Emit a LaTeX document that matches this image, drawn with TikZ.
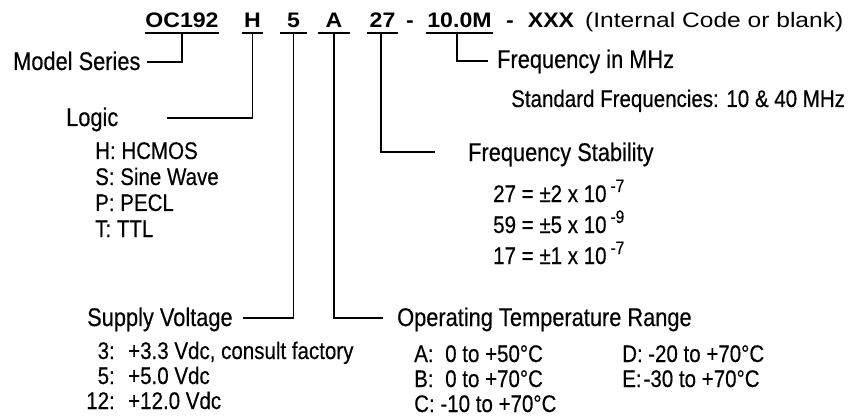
\documentclass[tikz,border=0pt]{standalone}
\usepackage{fontspec}
\setmainfont{Liberation Sans}
\newfontfamily\codefont[FakeStretch=1.1]{Liberation Sans}
\newfontfamily\notefont[FakeStretch=1.17]{Liberation Sans}
\newfontfamily\narrowfont[FakeStretch=0.855,FakeBold=0.35]{Liberation Sans}
\newcommand\expo[1]{\hspace{4pt}\raisebox{10pt}{\fontsize{18}{18}\selectfont #1}}
\begin{document}
\begin{tikzpicture}[x=1pt,y=-1pt,
  code/.style={font=\codefont\bfseries\fontsize{21}{21}\selectfont, inner sep=0pt, text height=15pt, text depth=5pt, anchor=base},
  note/.style={font=\notefont\fontsize{21}{21}\selectfont, inner sep=0pt, anchor=base west},
  head/.style={font=\narrowfont\fontsize{25.5}{25.5}\selectfont, inner sep=0pt, anchor=base west},
  item/.style={font=\narrowfont\fontsize{24}{24}\selectfont, inner sep=0pt, anchor=base west},
  itemr/.style={item, anchor=base east},
  conn/.style={line width=1.4pt}]
\useasboundingbox (0,0) rectangle (857,417);
% top code row
\node[code, minimum width=72pt] (oc) at (182,28) {OC192};
\node[code, minimum width=21pt] (h) at (252.5,28) {H};
\node[code, minimum width=27pt] (v) at (293.5,28) {5};
\node[code, minimum width=32pt] (t) at (334,28) {A};
\node[code, minimum width=31pt] (s) at (382.5,28) {27};
\node[code] (d1) at (410,28) {-};
\node[code, minimum width=67pt] (f) at (459.5,28) {10.0M};
\node[code] (d2) at (510,28) {-};
\node[code] (x) at (551,28) {XXX};
\node[note] (ic) at (585,28) {(Internal Code or blank)};
\foreach \n in {oc,h,v,t,s,f} \draw[conn] (\n.south west) -- (\n.south east);
% headings
\node[head] (ms) at (13,70) {Model Series};
\node[head] (lg) at (66,126) {Logic};
\node[head] (sv) at (87,326) {Supply Voltage};
\node[head] (ot) at (397,326) {Operating Temperature Range};
\node[head] (fs) at (468,161) {Frequency Stability};
\node[head] (fm) at (497,68) {Frequency in MHz};
% connector ends
\coordinate (msE) at (147,62);
\coordinate (lgE) at (167,118);
\coordinate (svE) at (243,318);
\coordinate (otE) at (383,318);
\coordinate (fsE) at (435,152);
\coordinate (fmE) at (488,61);
\draw[conn] (oc.south) |- (msE);
\draw[conn] (h.south) |- (lgE);
\draw[conn] (v.south) |- (svE);
\draw[conn] (t.south) |- (otE);
\draw[conn] ([xshift=-1.5pt]s.south) |- (fsE);
\draw[conn] ([xshift=-2.5pt]f.south) |- (fmE);
% frequency
\node[item] (fm1) at (511,107) {Standard Frequencies: 10 \& 40 MHz};
% logic list
\node[item] (lg1) at (95,159) {H: HCMOS};
\node[item] (lg2) at (95,185) {S: Sine Wave};
\node[item] (lg3) at (95,211) {P: PECL};
\node[item] (lg4) at (95,237) {T: TTL};
% stability list
\node[item] (fs1) at (493,202) {27 = ±2 x 10\expo{-7}};
\node[item] (fs2) at (493,233) {59 = ±5 x 10\expo{-9}};
\node[item] (fs3) at (493,264) {17 = ±1 x 10\expo{-7}};
% supply list
\node[itemr] (sv1k) at (115,359) {3:};
\node[itemr] (sv2k) at (115,384) {5:};
\node[itemr] (sv3k) at (115,409) {12:};
\node[item] (sv1) at (128,359) {+3.3 Vdc, consult factory};
\node[item] (sv2) at (128,384) {+5.0 Vdc};
\node[item] (sv3) at (128,409) {+12.0 Vdc};
% temperature list
\node[item] (ot1k) at (414,362) {A:};
\node[item] (ot1) at (445,362) {0 to +50°C};
\node[item] (ot2k) at (414,387) {B:};
\node[item] (ot2) at (445,387) {0 to +70°C};
\node[item] (ot3) at (414,412) {C: -10 to +70°C};
\node[item] (ot4k) at (622,362) {D:};
\node[item] (ot4) at (648,362) {-20 to +70°C};
\node[item] (ot5) at (622,387) {E:\hspace{2pt}-30 to +70°C};
\end{tikzpicture}
\end{document}
